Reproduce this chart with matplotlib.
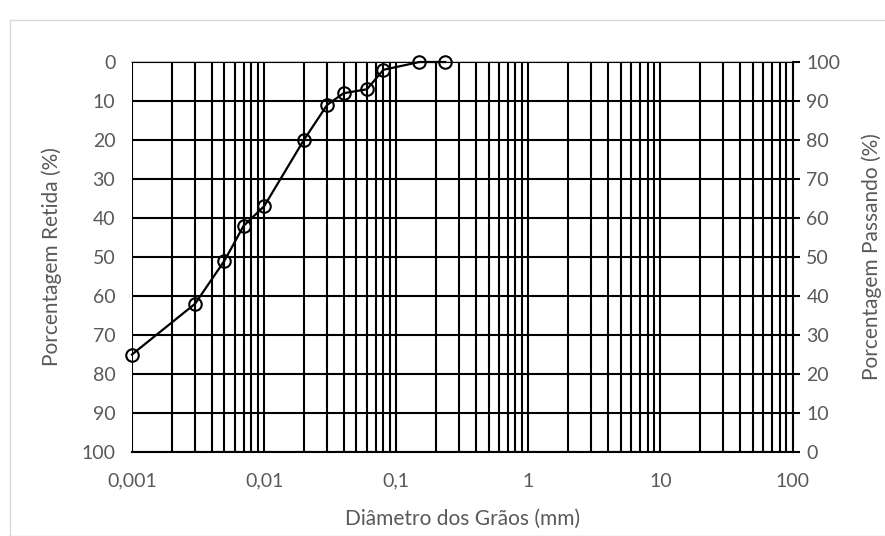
import matplotlib.pyplot as plt
from matplotlib.patches import Rectangle
from matplotlib.ticker import FixedLocator, FuncFormatter, LogLocator, NullFormatter

plt.rcParams['font.family'] = ['Lato', 'DejaVu Sans']

# dados da curva granulométrica
diametro = [0.001, 0.003, 0.005, 0.007, 0.01, 0.02, 0.03, 0.04, 0.06, 0.08, 0.15, 0.235]
passando = [25, 38, 49, 58, 63, 80, 89, 92, 93, 98, 100, 100]

x_ticks = [0.001, 0.01, 0.1, 1, 10, 100]
x_labels = ['0,001', '0,01', '0,1', '1', '10', '100']
y_ticks = list(range(0, 101, 10))

cinza = '#595959'

fig = plt.figure(figsize=(8.85, 5.36), dpi=100)
fig.patches.append(Rectangle((10 / 885, 0), 1, 1 - 20 / 536, transform=fig.transFigure,
                             fill=False, edgecolor='#d9d9d9', linewidth=1))

ax = fig.add_axes([132 / 885, 1 - 452 / 536, (792.5 - 132) / 885, (452 - 62) / 536])
ax2 = ax.twinx()

ax2.plot(diametro, passando, color='black', linewidth=1.6, marker='o', markersize=9,
         markerfacecolor='none', markeredgecolor='black', markeredgewidth=1.5,
         zorder=5, clip_on=False)

ax.set_xscale('log')
ax.set_xlim(0.001, 100)
ax.set_ylim(100, 0)
ax2.set_ylim(0, 100)

ax.xaxis.set_major_locator(FixedLocator(x_ticks))
ax.xaxis.set_major_formatter(FuncFormatter(lambda v, p: x_labels[x_ticks.index(v)] if v in x_ticks else ''))
ax.xaxis.set_minor_locator(LogLocator(base=10, subs=range(2, 10)))
ax.xaxis.set_minor_formatter(NullFormatter())
ax.set_yticks(y_ticks)
ax2.set_yticks(y_ticks)

# grade preta (principal e secundária)
ax.grid(True, which='major', axis='both', color='black', linewidth=1.5)
ax.grid(True, which='minor', axis='x', color='black', linewidth=1.5)
ax.set_axisbelow(True)

for s in ax.spines.values():
    s.set_visible(False)
for s in ax2.spines.values():
    s.set_visible(False)
ax2.spines['right'].set_visible(True)
ax2.spines['right'].set_color('black')
ax2.spines['right'].set_linewidth(1.5)
ax.spines['bottom'].set_visible(True)
ax.spines['bottom'].set_color('black')
ax.spines['bottom'].set_linewidth(1.5)
ax.spines['top'].set_visible(True)
ax.spines['top'].set_color('#bfbfbf')
ax.spines['top'].set_linewidth(1.5)
ax.spines['top'].set_zorder(0)

ax.tick_params(axis='x', which='both', length=0, labelsize=14, labelcolor=cinza, pad=15)
ax.tick_params(axis='y', length=0, labelsize=14, labelcolor=cinza, pad=12)
ax2.tick_params(axis='y', length=5, width=1.5, color='black', labelsize=14, labelcolor=cinza, pad=5)

ax.set_xlabel('Diâmetro dos Grãos (mm)', fontsize=15, color=cinza, labelpad=14)
ax.set_ylabel('Porcentagem Retida (%)', fontsize=15, color=cinza, labelpad=14)
ax2.set_ylabel('Porcentagem Passando (%)', fontsize=15, color=cinza, labelpad=15)

fig.savefig('out.png', dpi=100)
